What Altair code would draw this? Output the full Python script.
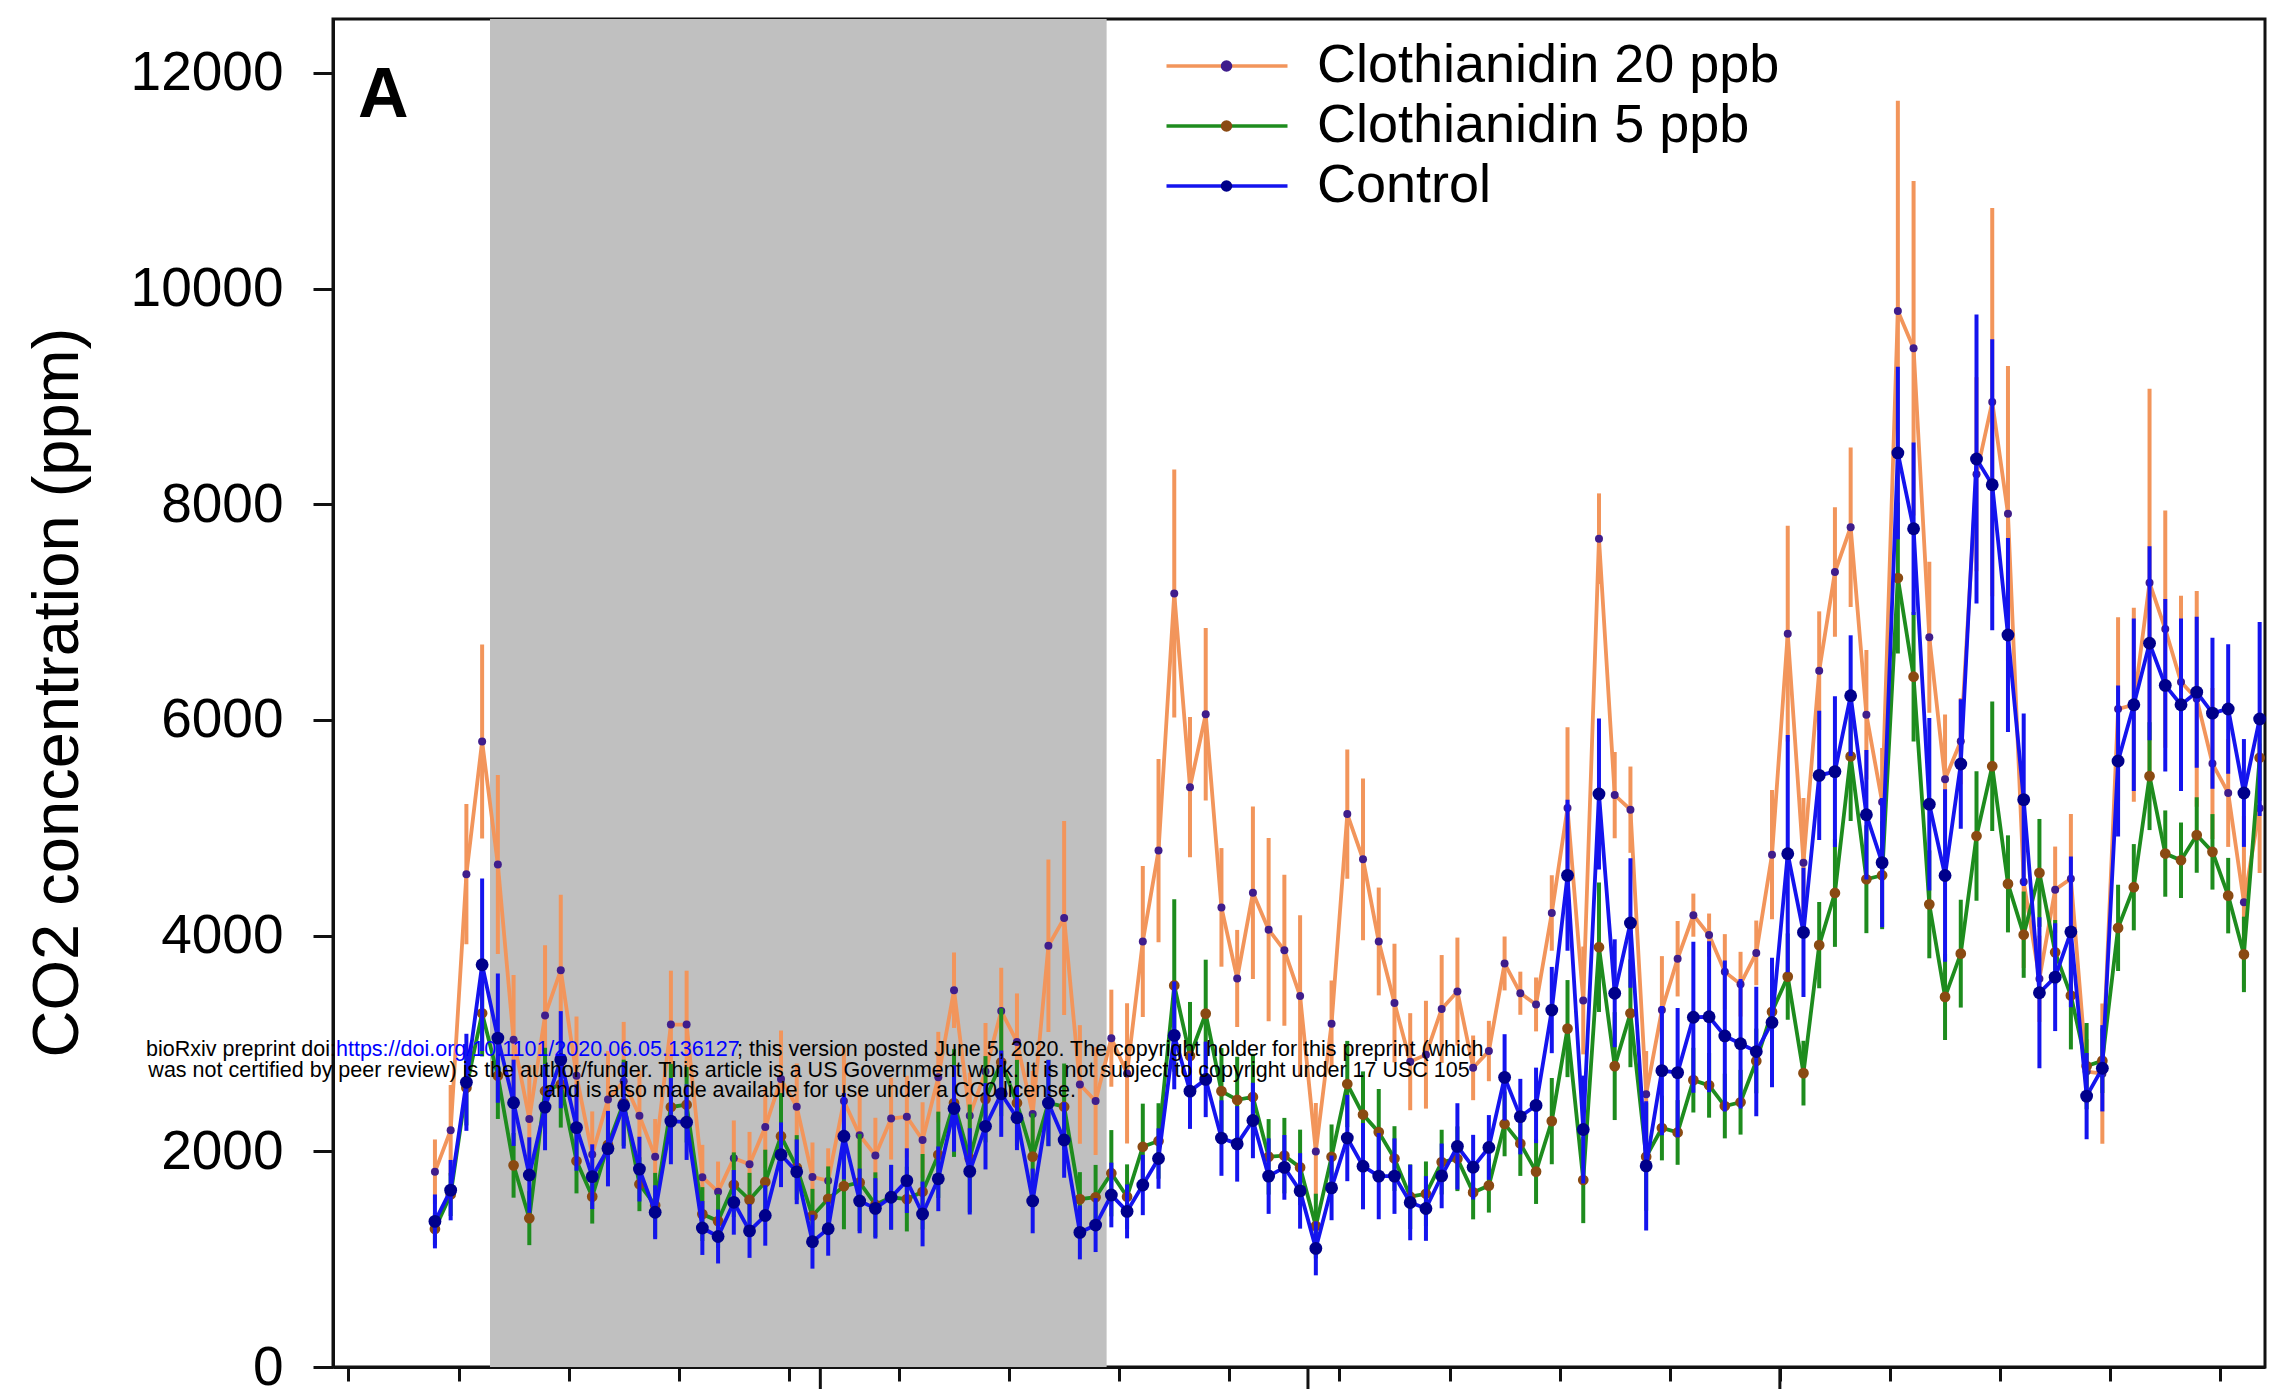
import altair as alt
import pandas as pd

# ---------------- data ----------------
series = ["Clothianidin 20 ppb", "Clothianidin 5 ppb", "Control"]
day = list(range(117))

c20_mean = [1810, 2195, 4570, 5800, 4660, 3035, 2300, 3260, 3680, 2700,
            1970, 2480, 2650, 2330, 1950, 3175, 3175, 1760, 1625, 1936,
            1880, 2225, 2670, 2414, 1762, 1728, 2466, 2150, 1961, 2304,
            2321, 2105, 2688, 3494, 2330, 2740, 3302, 3014, 2346, 3906,
            4163, 2620, 2466, 3049, 2722, 3946, 4789, 7172, 5377, 6052,
            4262, 3603, 4398, 4055, 3864, 3440, 1998, 3184, 5127, 4708,
            3946, 3375, 2831, 2896, 3320, 3482, 2774, 2930, 3742, 3466,
            3362, 4210, 5183, 3399, 7681, 5303, 5168, 2530, 3310, 3786,
            4190, 4005, 3664, 3550, 3840, 4751, 6800, 4677, 6457, 7372,
            7787, 6049, 5240, 9792, 9447, 6767, 5451, 5803, 8279, 8948,
            7913, 4500, 3600, 4426, 4527, 2740, 2720, 6102, 6141, 7272,
            6843, 6352, 6196, 5596, 5323, 4309, 5182]
c20_err = [300, 420, 650, 900, 830, 600, 500, 650, 700, 550,
           400, 450, 550, 420, 350, 500, 500, 300, 280, 350,
           300, 380, 450, 400, 320, 300, 500, 400, 350, 380,
           380, 350, 420, 350, 400, 450, 400, 450, 400, 800,
           900, 550, 500, 450, 650, 700, 850, 1150, 650, 800,
           550, 450, 800, 850, 700, 750, 450, 400, 600, 750,
           500, 550, 450, 500, 500, 500, 300, 280, 250, 200,
           250, 350, 750, 500, 420, 400, 400, 400, 500, 350,
           200, 200, 350, 300, 300, 600, 1000, 600, 550, 600,
           740, 600, 500, 1950, 1550, 700, 600, 400, 900, 1800,
           1370, 800, 400, 400, 600, 300, 650, 850, 900, 1800,
           1100, 800, 1000, 700, 500, 800, 600]

c5_mean = [1280, 1600, 2590, 3280, 2700, 1870, 1380, 2560, 2620, 1910,
           1580, 2060, 2450, 1695, 1500, 2411, 2432, 1418, 1353, 1690,
           1550, 1715, 2140, 1850, 1402, 1560, 1677, 1711, 1505, 1574,
           1557, 1625, 1968, 2448, 1934, 2483, 2826, 2448, 1951, 2448,
           2414, 1557, 1574, 1797, 1579, 2042, 2096, 3538, 2885, 3277,
           2558, 2477, 2504, 1949, 1960, 1851, 1307, 1949, 2624, 2341,
           2178, 1933, 1579, 1606, 1900, 1931, 1619, 1682, 2254, 2072,
           1812, 2280, 3138, 1734, 3893, 2790, 3280, 1950, 2216, 2175,
           2660, 2612, 2420, 2455, 2838, 3294, 3620, 2725, 3912, 4396,
           5662, 4523, 4560, 7316, 6401, 4290, 3432, 3833, 4924, 5571,
           4480, 4009, 4582, 3845, 3445, 2790, 2840, 4072, 4449, 5479,
           4761, 4699, 4933, 4777, 4371, 3826, 5650]
c5_err = [150, 200, 350, 400, 400, 300, 250, 400, 400, 300,
          250, 300, 400, 250, 300, 400, 350, 250, 250, 300,
          250, 300, 400, 300, 250, 300, 400, 450, 300, 300,
          300, 350, 400, 500, 500, 400, 500, 400, 400, 400,
          400, 250, 300, 400, 300, 400, 350, 800, 500, 500,
          400, 400, 400, 350, 350, 350, 300, 300, 400, 400,
          400, 300, 300, 300, 300, 300, 250, 250, 300, 300,
          300, 400, 450, 400, 600, 500, 500, 500, 300, 300,
          300, 300, 300, 300, 300, 300, 400, 300, 400, 500,
          600, 500, 500, 700, 600, 500, 400, 500, 600, 600,
          450, 400, 500, 300, 500, 400, 300, 400, 400, 500,
          400, 350, 350, 350, 350, 350, 400]

ctl_mean = [1350, 1640, 2640, 3730, 3050, 2450, 1780, 2410, 2850, 2220,
            1765, 2025, 2425, 1835, 1435, 2280, 2270, 1289, 1210, 1527,
            1262, 1405, 1968, 1810, 1162, 1282, 2140, 1540, 1471, 1574,
            1728, 1419, 1745, 2397, 1814, 2232, 2534, 2311, 1540, 2448,
            2105, 1248, 1316, 1595, 1443, 1688, 1933, 3075, 2558, 2667,
            2123, 2069, 2286, 1770, 1851, 1633, 1100, 1661, 2123, 1862,
            1770, 1770, 1525, 1470, 1772, 2046, 1853, 2036, 2686, 2322,
            2426, 3310, 4559, 2202, 5313, 3466, 4117, 1865, 2748, 2730,
            3243, 3248, 3070, 2998, 2925, 3195, 4760, 4030, 5486, 5521,
            6225, 5121, 4677, 8476, 7773, 5219, 4558, 5592, 8420, 8181,
            6788, 5261, 3470, 3615, 4035, 2512, 2770, 5619, 6141, 6711,
            6321, 6141, 6258, 6063, 6102, 5323, 6009]
ctl_err = [250, 280, 450, 800, 600, 400, 350, 400, 450, 400,
           300, 350, 400, 300, 250, 400, 350, 250, 250, 300,
           250, 280, 300, 300, 250, 250, 400, 300, 280, 300,
           300, 300, 300, 400, 400, 400, 400, 300, 300, 400,
           350, 250, 250, 300, 250, 280, 280, 500, 350, 350,
           350, 350, 350, 350, 300, 350, 250, 300, 400, 400,
           400, 350, 350, 300, 300, 400, 300, 300, 400, 350,
           350, 400, 700, 500, 700, 500, 600, 600, 600, 600,
           700, 700, 700, 600, 600, 600, 1100, 600, 600, 700,
           560, 600, 600, 800, 800, 800, 800, 600, 1340, 1350,
           900, 800, 700, 500, 700, 400, 400, 700, 800, 900,
           800, 800, 700, 700, 600, 500, 900]

shade_start = [3.5]
shade_end = [42.7]

y_ticks = [0, 2000, 4000, 6000, 8000, 10000, 12000]
week_ticks = [-5.5, 1.5, 8.5, 15.5, 22.5, 29.5, 36.5, 43.5, 50.5, 57.5,
              64.5, 71.5, 78.5, 85.5, 92.5, 99.5, 106.5, 113.5]
month_ticks = [24.5, 55.5, 85.5]

line_colors = ["#F2955B", "#1E8C1E", "#1414EE"]
marker_colors = ["#3F1D8C", "#8A4A12", "#00008B"]
marker_sizes = [64, 115, 165]

# ---------------- tables ----------------
rows = []
for name, means, errs in zip(series, [c20_mean, c5_mean, ctl_mean], [c20_err, c5_err, ctl_err]):
    for d, m, e in zip(day, means, errs):
        rows.append({"day": d, "series": name, "marker": name, "mean": m, "lo": m - e, "hi": m + e})
df = pd.DataFrame(rows)

shade_df = pd.DataFrame({"start": shade_start, "end": shade_end, "ylo": [0], "yhi": [12500]})
month_df = pd.DataFrame({"t": month_ticks})

W, H = 1932, 1348
FONT = "Liberation Sans"

x_scale = alt.Scale(domain=[-6.48, 116.34], nice=False, zero=False)
y_scale = alt.Scale(domain=[0, 12500], nice=False)

x_axis = alt.Axis(values=week_ticks, labels=False, title=None, grid=False,
                  tickSize=14, tickWidth=3, tickColor="#111111",
                  domainColor="#111111", domainWidth=3)
y_axis = alt.Axis(values=y_ticks, format="d", title="CO2 concentration (ppm)", grid=False,
                  tickSize=20, tickWidth=3, tickColor="#111111",
                  domainColor="#111111", domainWidth=3,
                  labelFont=FONT, labelFontSize=55, labelColor="black", labelPadding=30,
                  titleFont=FONT, titleFontSize=65, titleFontWeight="normal", titleColor="black",
                  titleAngle=270, titleX=-256, titleY=673, titleAlign="center",
                  titleBaseline="alphabetic")

stroke_legend = alt.Legend(title=None, orient="none", legendX=831.5, legendY=17,
                           symbolType="stroke", symbolSize=14641, symbolStrokeWidth=3.5,
                           labelFont=FONT, labelFontSize=54, labelColor="black",
                           labelOffset=27.5, clipHeight=60, rowPadding=0, padding=0,
                           labelLimit=0, zindex=1)
fill_legend = alt.Legend(title=None, orient="none", legendX=887.5, legendY=17,
                         symbolType="circle", symbolSize=135, symbolStrokeWidth=0,
                         labelExpr="''", labelFontSize=10, clipHeight=60, rowPadding=0,
                         padding=0, zindex=2)

X = alt.X("day:Q", scale=x_scale, axis=x_axis)
Y = alt.Y("mean:Q", scale=y_scale, axis=y_axis)
STROKE = alt.Stroke("series:N", scale=alt.Scale(range=line_colors), legend=stroke_legend)
FILL = alt.Fill("marker:N", scale=alt.Scale(range=marker_colors), legend=fill_legend)

band = alt.Chart(shade_df).mark_rect(color="#C0C0C0").encode(
    x=alt.X("start:Q", scale=x_scale, axis=x_axis),
    x2="end:Q",
    y=alt.Y("ylo:Q", scale=y_scale, axis=y_axis),
    y2="yhi:Q",
)

month_rules = alt.Chart(month_df).mark_rule(color="#111111", strokeWidth=3).encode(
    x=alt.X("t:Q", scale=x_scale, axis=x_axis),
    y=alt.value(H),
    y2=alt.value(H + 40),
)

layers = [band, month_rules]
base = alt.Chart(df)
for name, msize in zip(series, marker_sizes):
    sub = base.transform_filter(alt.datum.series == name)
    bars = sub.mark_rule(strokeWidth=4).encode(
        x=X, y=alt.Y("lo:Q", scale=y_scale, axis=y_axis), y2="hi:Q", stroke=STROKE)
    line = sub.mark_line(strokeWidth=3.8).encode(x=X, y=Y, stroke=STROKE)
    pts = sub.mark_circle(size=msize, opacity=1).encode(x=X, y=Y, fill=FILL)
    layers += [bars, line, pts]

panel_letter = alt.Chart(pd.DataFrame({"t": ["A"]})).mark_text(
    font=FONT, fontSize=70, fontWeight="bold", align="left", baseline="alphabetic", color="black"
).encode(text="t:N", x=alt.value(25), y=alt.value(98))

wm1a = ["bioRxiv preprint doi: "]
wm1b = ["https://doi.org/10.1101/2020.06.05.136127"]
wm1c = ["; this version posted June 5, 2020. The copyright holder for this preprint (which"]
wm2 = ["was not certified by peer review) is the author/funder. This article is a US Government work. It is not subject to copyright under 17 USC 105"]
wm3 = ["and is also made available for use under a CC0 license."]


def wm(text, x, y, align, color="black"):
    return alt.Chart(pd.DataFrame({"t": text})).mark_text(
        font=FONT, fontSize=21.5, align=align, baseline="middle", color=color
    ).encode(text="t:N", x=alt.value(x), y=alt.value(y))


watermark = [
    wm(wm1a, 3, 1031, "right"),
    wm(wm1b, 3, 1031, "left", "#0000FF"),
    wm(wm1c, 404, 1031, "left"),
    wm(wm2, 476, 1051.5, "center"),
    wm(wm3, 477, 1072, "center"),
]

chart = alt.layer(*layers, panel_letter, *watermark).properties(
    width=W, height=H,
    padding={"left": 333, "top": 19, "right": 28, "bottom": 22},
    autosize=alt.AutoSizeParams(type="none"),
    background="white",
).configure_view(stroke="#111111", strokeWidth=3)

chart.save("out.html", embed_options={"renderer": "svg", "actions": False})
